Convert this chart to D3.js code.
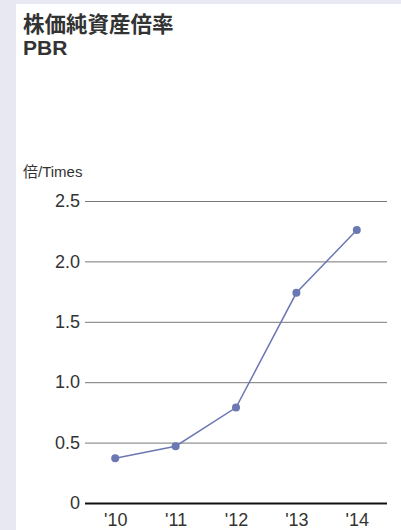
<!DOCTYPE html>
<html><head><meta charset="utf-8">
<script src="https://cdn.jsdelivr.net/npm/d3@7"></script>
<style>
html,body{margin:0;padding:0;background:#e8e8f3;}
svg{display:block;}
text{font-family:"Helvetica Neue",Arial,"Liberation Sans","Noto Sans CJK JP",sans-serif;}
</style></head>
<body>
<script>
const categories = ["'10","'11","'12","'13","'14"];
const pbrValues = [0.37, 0.47, 0.79, 1.74, 2.26];
const yTicks = [0, 0.5, 1.0, 1.5, 2.0, 2.5];
const yTickLabels = ["0","0.5","1.0","1.5","2.0","2.5"];
const titleLines = ["株価純資産倍率","PBR"];
const unitLabel = "倍/Times";

(function(){
const W = 401, H = 530;
const svg = d3.select("body").append("svg").attr("width", W).attr("height", H);
svg.append("rect").attr("width", W).attr("height", H).attr("fill", "#e8e8f3");
svg.append("rect").attr("x", 16).attr("y", 4).attr("width", W - 16).attr("height", H - 4).attr("fill", "#fff");

const fontJP = '"Noto Sans CJK JP","Liberation Sans",sans-serif';
svg.append("text").attr("x", 23).attr("y", 32).text(titleLines[0])
  .attr("font-size", 21.5).attr("font-weight", "bold").attr("fill", "#333").style("font-family", fontJP);
svg.append("text").attr("x", 23).attr("y", 55).text(titleLines[1])
  .attr("font-size", 21).attr("font-weight", "bold").attr("fill", "#333").style("font-family", '"Liberation Sans",Arial,sans-serif');
svg.append("text").attr("x", 23).attr("y", 177).text(unitLabel)
  .attr("font-size", 15).attr("fill", "#333").style("font-family", '"Liberation Sans","Noto Sans CJK JP",sans-serif');

const mLeft = 85, mRight = 387, mTop = 201, mBottom = 503;
const x = d3.scalePoint().domain(categories).range([mLeft, mRight]).padding(0.5);
const y = d3.scaleLinear().domain([0, 2.5]).range([mBottom, mTop]);

const yAxis = d3.axisLeft(y).tickValues(yTicks).tickSize(-(mRight - mLeft)).tickPadding(5)
  .tickFormat((d, i) => yTickLabels[i]);
const gy = svg.append("g").attr("transform", `translate(${mLeft},0)`).call(yAxis);
gy.select(".domain").remove();
gy.selectAll(".tick line").attr("stroke", "#777").attr("stroke-width", 1);
gy.selectAll(".tick text").attr("font-size", 18).attr("fill", "#333")
  .style("font-family", '"Liberation Sans",Arial,sans-serif');
gy.selectAll(".tick").filter(d => d === 0).select("line").attr("stroke", "#111").attr("stroke-width", 2);

const xAxis = d3.axisBottom(x).tickSize(0).tickPadding(10);
const gx = svg.append("g").attr("transform", `translate(0,${mBottom})`).call(xAxis);
gx.select(".domain").remove();
gx.selectAll(".tick text").attr("font-size", 18).attr("fill", "#333")
  .style("font-family", '"Liberation Sans",Arial,sans-serif');

const data = categories.map((c, i) => ({c, v: pbrValues[i]}));
svg.append("path").datum(data)
  .attr("d", d3.line().x(d => x(d.c)).y(d => y(d.v)))
  .attr("fill", "none").attr("stroke", "#6c78b4").attr("stroke-width", 1.5);
svg.selectAll("circle.pt").data(data).enter().append("circle").attr("class", "pt")
  .attr("cx", d => x(d.c)).attr("cy", d => y(d.v)).attr("r", 4).attr("fill", "#6c78b4");
})();
</script>
</body></html>
